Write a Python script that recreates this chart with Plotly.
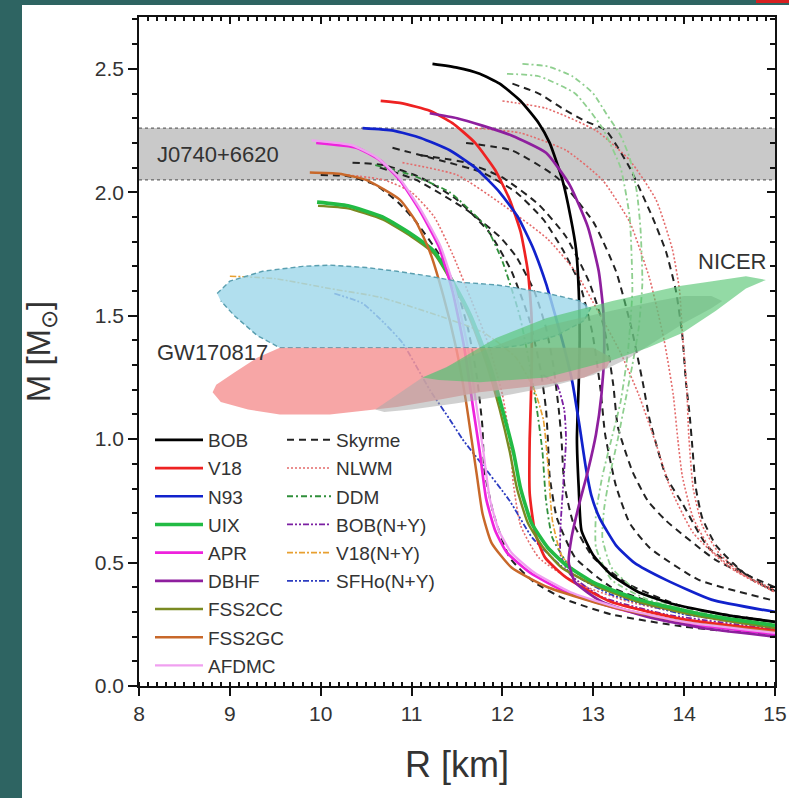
import plotly.graph_objects as go

# ---------------- axis / annotation data ----------------
x_range = [8, 15]
y_range = [0, 2.71]
j0740_band = [2.05, 2.26]

# ---------------- solid (nucleonic) curves ----------------
bob_R = [11.23, 11.5, 11.75, 11.97, 12.2, 12.4, 12.52, 12.66, 12.75, 12.81, 12.84, 12.85, 12.84, 12.82, 12.84, 12.87, 13.0, 13.2, 13.5, 13.9, 14.5, 15.0]
bob_M = [2.52, 2.505, 2.48, 2.44, 2.37, 2.28, 2.20, 2.05, 1.90, 1.77, 1.6, 1.40, 1.23, 1.0, 0.8, 0.63, 0.53, 0.45, 0.38, 0.33, 0.285, 0.26]

v18_R = [10.66, 10.9, 11.2, 11.45, 11.7, 11.92, 12.08, 12.2, 12.28, 12.32, 12.32, 12.3, 12.3, 12.36, 12.47, 12.7, 13.2, 14.0, 15.0]
v18_M = [2.37, 2.36, 2.33, 2.28, 2.20, 2.09, 1.97, 1.84, 1.68, 1.5, 1.25, 1.0, 0.78, 0.62, 0.52, 0.44, 0.34, 0.27, 0.225]

n93_R = [10.46, 10.8, 11.1, 11.42, 11.7, 11.97, 12.17, 12.33, 12.48, 12.59, 12.68, 12.77, 12.85, 12.92, 12.98, 13.07, 13.25, 13.45, 13.8, 14.3, 15.0]
n93_M = [2.26, 2.25, 2.22, 2.17, 2.10, 2.00, 1.90, 1.78, 1.63, 1.49, 1.37, 1.23, 1.05, 0.88, 0.77, 0.68, 0.57, 0.50, 0.43, 0.35, 0.30]

uix_R = [9.96, 10.3, 10.68, 11.0, 11.25, 11.45, 11.65, 11.86, 12.0, 12.12, 12.2, 12.32, 12.5, 12.7, 13.0, 13.5, 14.2, 15.0]
uix_M = [1.96, 1.945, 1.90, 1.83, 1.76, 1.64, 1.5, 1.3, 1.12, 0.95, 0.8, 0.66, 0.56, 0.49, 0.42, 0.35, 0.29, 0.245]

apr_R = [9.95, 10.4, 10.65, 10.87, 11.1, 11.3, 11.45, 11.58, 11.68, 11.75, 11.82, 11.92, 12.05, 12.3, 12.7, 13.3, 14.0, 15.0]
apr_M = [2.20, 2.18, 2.13, 2.05, 1.92, 1.78, 1.6, 1.37, 1.12, 0.95, 0.76, 0.63, 0.54, 0.46, 0.38, 0.31, 0.255, 0.21]

dbhf_R = [11.2, 11.5, 11.78, 12.1, 12.48, 12.74, 12.94, 13.06, 13.11, 13.12, 13.09, 13.03, 12.94, 12.84, 12.76, 12.73, 12.8, 13.1, 13.6, 14.2, 15.0]
dbhf_M = [2.32, 2.30, 2.27, 2.23, 2.16, 2.03, 1.86, 1.68, 1.52, 1.36, 1.18, 1.02, 0.87, 0.73, 0.6, 0.5, 0.42, 0.34, 0.28, 0.235, 0.20]

fss2cc_R = [9.97, 10.3, 10.68, 11.0, 11.25, 11.45, 11.63, 11.83, 11.97, 12.08, 12.16, 12.28, 12.45, 12.65, 13.0, 13.5, 14.2, 15.0]
fss2cc_M = [1.945, 1.935, 1.89, 1.82, 1.75, 1.63, 1.5, 1.3, 1.12, 0.95, 0.8, 0.66, 0.56, 0.48, 0.41, 0.34, 0.28, 0.235]

fss2gc_R = [9.88, 10.2, 10.5, 10.87, 11.05, 11.2, 11.35, 11.49, 11.6, 11.66, 11.72, 11.78, 11.88, 12.1, 12.5, 13.2, 14.0, 15.0]
fss2gc_M = [2.08, 2.075, 2.05, 1.97, 1.88, 1.76, 1.58, 1.37, 1.15, 1.0, 0.85, 0.7, 0.58, 0.48, 0.40, 0.32, 0.26, 0.22]

afdmc_R = [9.9, 10.35, 10.62, 10.86, 11.1, 11.32, 11.48, 11.62, 11.72, 11.79, 11.86, 11.96, 12.1, 12.35, 12.75, 13.3, 14.0, 15.0]
afdmc_M = [2.21, 2.19, 2.14, 2.06, 1.93, 1.78, 1.6, 1.37, 1.12, 0.95, 0.76, 0.63, 0.54, 0.46, 0.38, 0.315, 0.26, 0.215]

# ---------------- Skyrme family (dashed) ----------------
sk1_R = [10.0, 10.3, 10.6, 10.85, 11.05, 11.3, 11.5, 11.62, 11.72, 11.78, 11.8, 11.9, 12.08, 12.35, 12.7, 13.2, 14.0, 15.0]
sk1_M = [2.07, 2.065, 2.03, 1.96, 1.88, 1.75, 1.6, 1.45, 1.25, 1.05, 0.88, 0.7, 0.52, 0.42, 0.35, 0.29, 0.24, 0.205]
sk2_R = [10.35, 10.7, 11.1, 11.5, 11.85, 12.1, 12.3, 12.42, 12.48, 12.5, 12.52, 12.6, 12.8, 13.2, 13.8, 14.4, 15.0]
sk2_M = [2.12, 2.11, 2.06, 1.97, 1.84, 1.68, 1.48, 1.28, 1.12, 1.0, 0.85, 0.68, 0.52, 0.40, 0.32, 0.27, 0.235]
sk3_R = [10.65, 11.05, 11.6, 11.97, 12.15, 12.35, 12.48, 12.56, 12.62, 12.65, 12.68, 12.78, 13.0, 13.4, 14.0, 15.0]
sk3_M = [2.10, 2.05, 1.93, 1.82, 1.74, 1.6, 1.45, 1.3, 1.12, 1.0, 0.82, 0.66, 0.52, 0.41, 0.32, 0.26]
sk4_R = [10.79, 11.31, 11.78, 12.15, 12.45, 12.66, 12.85, 12.99, 13.08, 13.13, 13.25, 13.4, 13.62, 14.16, 15.0]
sk4_M = [2.18, 2.13, 2.08, 2.0, 1.89, 1.77, 1.63, 1.43, 1.2, 1.02, 0.81, 0.66, 0.56, 0.43, 0.345]
sk5_R = [11.1, 11.6, 12.0, 12.4, 12.7, 12.95, 13.12, 13.22, 13.27, 13.43, 13.6, 13.8, 14.35, 15.0]
sk5_M = [2.15, 2.12, 2.06, 1.95, 1.82, 1.64, 1.45, 1.22, 1.05, 0.87, 0.75, 0.67, 0.51, 0.40]
sk6_R = [11.6, 12.1, 12.6, 13.0, 13.25, 13.42, 13.55, 13.62, 13.8, 13.98, 14.27, 15.0]
sk6_M = [2.2, 2.17, 2.06, 1.88, 1.68, 1.45, 1.22, 1.08, 0.85, 0.74, 0.56, 0.38]
sk7_R = [12.11, 12.4, 12.66, 12.9, 13.14, 13.4, 13.65, 13.8, 13.91, 13.98, 14.02, 14.06, 14.09, 14.13, 14.2, 14.35, 14.53, 14.75, 15.0]
sk7_M = [2.44, 2.40, 2.34, 2.29, 2.25, 2.10, 1.90, 1.76, 1.60, 1.42, 1.23, 1.1, 0.97, 0.8, 0.68, 0.57, 0.50, 0.43, 0.385]

# ---------------- NLWM family (dotted) ----------------
nl1_R = [12.0, 12.48, 13.03, 13.4, 13.69, 13.87, 13.95, 13.98, 14.03, 14.05, 14.1, 14.2, 14.38, 14.65, 15.0]
nl1_M = [2.37, 2.34, 2.25, 2.13, 1.97, 1.77, 1.6, 1.43, 1.2, 1.02, 0.8, 0.65, 0.54, 0.45, 0.38]
nl2_R = [11.7, 12.2, 12.7, 13.1, 13.4, 13.62, 13.78, 13.88, 13.93, 13.98, 14.1, 14.3, 14.6, 15.0]
nl2_M = [2.26, 2.24, 2.17, 2.05, 1.88, 1.65, 1.4, 1.18, 1.0, 0.85, 0.68, 0.55, 0.46, 0.39]
nl3_R = [10.3, 10.7, 11.0, 11.25, 11.45, 11.65, 11.85, 12.0, 12.08, 12.12, 12.2, 12.4, 12.8, 13.4, 14.2, 15.0]
nl3_M = [2.07, 2.05, 2.0, 1.9, 1.75, 1.57, 1.38, 1.18, 1.0, 0.82, 0.65, 0.52, 0.42, 0.34, 0.28, 0.25]
nl4_R = [10.9, 11.5, 12.0, 12.5, 12.8, 13.05, 13.3, 13.5, 13.7, 13.85, 14.1, 14.5, 15.0]
nl4_M = [2.12, 2.07, 1.95, 1.81, 1.68, 1.52, 1.35, 1.18, 0.97, 0.8, 0.62, 0.48, 0.38]

# ---------------- DDM family (dash-dot) ----------------
dd1_R = [12.22, 12.5, 12.77, 13.0, 13.14, 13.3, 13.4, 13.48, 13.52, 13.54, 13.5, 13.43, 13.35, 13.27, 13.18, 13.12, 13.1, 13.2, 13.5, 14.0, 15.0]
dd1_M = [2.52, 2.51, 2.47, 2.40, 2.32, 2.23, 2.14, 2.0, 1.85, 1.63, 1.45, 1.3, 1.15, 1.0, 0.85, 0.72, 0.6, 0.48, 0.38, 0.31, 0.26]
dd2_R = [12.05, 12.4, 12.8, 13.1, 13.3, 13.4, 13.43, 13.38, 13.3, 13.2, 13.1, 13.03, 13.03, 13.2, 13.6, 14.2, 15.0]
dd2_M = [2.48, 2.47, 2.4, 2.26, 2.1, 1.9, 1.6, 1.35, 1.15, 1.0, 0.85, 0.7, 0.56, 0.43, 0.35, 0.29, 0.255]
dd3_R = [10.6, 11.0, 11.42, 11.82, 12.0, 12.19, 12.3, 12.38, 12.44, 12.48, 12.55, 12.75, 13.2, 14.0, 15.0]
dd3_M = [2.11, 2.07, 2.0, 1.86, 1.72, 1.5, 1.3, 1.12, 0.95, 0.75, 0.6, 0.48, 0.38, 0.3, 0.255]

# ---------------- hyperonic curves ----------------
bobny_R = [12.45, 12.6, 12.68, 12.70, 12.67, 12.64, 12.64, 12.75, 13.1, 13.8, 15.0]
bobny_M = [1.26, 1.22, 1.12, 1.0, 0.82, 0.65, 0.53, 0.45, 0.36, 0.29, 0.23]
v18ny_R = [9.0, 9.5, 10.1, 10.65, 11.38, 11.8, 12.15, 12.35, 12.45, 12.5, 12.55, 12.65, 12.9, 13.4, 14.2, 15.0]
v18ny_M = [1.66, 1.65, 1.61, 1.575, 1.49, 1.43, 1.33, 1.2, 1.08, 0.9, 0.67, 0.53, 0.43, 0.35, 0.285, 0.245]
sfhony_R = [10.15, 10.46, 10.7, 10.9, 11.2, 11.42, 11.56, 11.75, 12.08, 12.33, 12.7, 13.2, 14.0, 15.0]
sfhony_M = [1.59, 1.55, 1.47, 1.39, 1.2, 1.08, 1.0, 0.91, 0.75, 0.60, 0.47, 0.37, 0.29, 0.245]

# ---------------- observational regions ----------------
gw_up_R = [8.86, 9.0, 9.36, 9.8, 10.1, 10.5, 10.84, 11.2, 11.56, 11.93, 12.2, 12.5, 12.85, 12.97, 12.9, 12.6, 12.2, 12.0, 11.5, 10.5, 9.55, 9.3, 9.05, 8.9]
gw_up_M = [1.59, 1.64, 1.68, 1.70, 1.705, 1.695, 1.68, 1.66, 1.635, 1.625, 1.61, 1.59, 1.56, 1.53, 1.48, 1.42, 1.38, 1.37, 1.37, 1.37, 1.37, 1.42, 1.5, 1.56]
gw_lo_R = [9.55, 9.3, 9.05, 8.85, 8.81, 8.9, 9.2, 9.55, 10.1, 10.84, 11.3, 11.75, 12.48, 12.9, 13.15, 13.2, 13.0, 12.0, 11.0]
gw_lo_M = [1.37, 1.33, 1.27, 1.22, 1.19, 1.15, 1.12, 1.10, 1.10, 1.13, 1.16, 1.19, 1.22, 1.25, 1.29, 1.33, 1.37, 1.37, 1.37]
nicer_gray_R = [10.6, 11.12, 11.8, 12.5, 13.2, 13.7, 14.0, 14.3, 14.42, 14.3, 14.0, 13.7, 13.4, 13.0, 12.5, 12.0, 11.5, 11.0, 10.7]
nicer_gray_M = [1.12, 1.25, 1.36, 1.46, 1.52, 1.56, 1.58, 1.58, 1.56, 1.53, 1.47, 1.40, 1.33, 1.26, 1.21, 1.175, 1.145, 1.12, 1.11]
nicer_green_R = [11.12, 11.38, 11.93, 12.48, 13.21, 13.95, 14.31, 14.68, 14.9, 14.68, 14.35, 13.98, 13.6, 13.21, 12.48, 11.75, 11.3]
nicer_green_M = [1.25, 1.29, 1.41, 1.49, 1.56, 1.62, 1.64, 1.66, 1.645, 1.61, 1.52, 1.43, 1.37, 1.32, 1.25, 1.23, 1.24]

FONT = "Liberation Sans, Arial, sans-serif"
TXT = "#333333"

fig = go.Figure()

# J0740+6620 band (below the curves)
fig.add_trace(go.Scatter(x=[x_range[0], x_range[1], x_range[1], x_range[0], x_range[0]],
                         y=[j0740_band[0], j0740_band[0], j0740_band[1], j0740_band[1], j0740_band[0]],
                         mode="lines", fill="toself", fillcolor="rgb(201,201,201)",
                         line=dict(width=0), showlegend=False, hoverinfo="skip"))
for yb in j0740_band:
    fig.add_trace(go.Scatter(x=x_range, y=[yb, yb], mode="lines",
                             line=dict(color="#666666", width=1.2, dash="3px,3px"),
                             showlegend=False, hoverinfo="skip"))

def add_curve(R, M, name, color, width, dash, legend, show, group, rank):
    fig.add_trace(go.Scatter(x=R, y=M, mode="lines", name=name,
                             line=dict(color=color, width=width, dash=dash, shape="spline", smoothing=0.5),
                             legend=legend, showlegend=show, legendgroup=group, legendrank=rank))

# dashed / dotted families first
for i, (R, M) in enumerate([(sk1_R, sk1_M), (sk2_R, sk2_M), (sk3_R, sk3_M), (sk4_R, sk4_M),
                            (sk5_R, sk5_M), (sk6_R, sk6_M), (sk7_R, sk7_M)]):
    add_curve(R, M, "Skyrme", "#222222", 2.0, "7px,5px", "legend2", i == 0, "Skyrme", 1)
for i, (R, M) in enumerate([(nl1_R, nl1_M), (nl2_R, nl2_M), (nl3_R, nl3_M), (nl4_R, nl4_M)]):
    add_curve(R, M, "NLWM", "#e46b6b", 1.6, "2px,2px", "legend2", i == 0, "NLWM", 2)
for i, (R, M) in enumerate([(dd3_R, dd3_M), (dd1_R, dd1_M), (dd2_R, dd2_M)]):
    add_curve(R, M, "DDM", ["#2f8f3a", "#8fcf8f", "#8fcf8f"][i], 1.8, "6px,3px,2px,3px", "legend2", i == 0, "DDM", 3)
add_curve(bobny_R, bobny_M, "BOB(N+Y)", "#7b1fa2", 1.8, "6px,2px,2px,2px,2px,2px", "legend2", True, "BOBNY", 4)
add_curve(v18ny_R, v18ny_M, "V18(N+Y)", "#e8a030", 1.6, "6px,2px,2px,2px", "legend2", True, "V18NY", 5)
add_curve(sfhony_R, sfhony_M, "SFHo(N+Y)", "#2c3cc0", 1.8, "6px,2px,2px,2px,2px,2px", "legend2", True, "SFHONY", 6)

# solid curves
add_curve(bob_R, bob_M, "BOB", "#000000", 2.7, "solid", "legend", True, "BOB", 1)
add_curve(v18_R, v18_M, "V18", "#ee2222", 2.7, "solid", "legend", True, "V18", 2)
add_curve(n93_R, n93_M, "N93", "#1122cc", 2.7, "solid", "legend", True, "N93", 3)
add_curve(fss2cc_R, fss2cc_M, "FSS2CC", "#7a8a22", 2.4, "solid", "legend", True, "FSS2CC", 7)
add_curve(uix_R, uix_M, "UIX", "#22bb44", 3.6, "solid", "legend", True, "UIX", 4)
add_curve(apr_R, apr_M, "APR", "#ee22dd", 2.7, "solid", "legend", True, "APR", 5)
add_curve(dbhf_R, dbhf_M, "DBHF", "#8e1f9e", 2.7, "solid", "legend", True, "DBHF", 6)
add_curve(fss2gc_R, fss2gc_M, "FSS2GC", "#c8682a", 2.5, "solid", "legend", True, "FSS2GC", 8)
add_curve(afdmc_R, afdmc_M, "AFDMC", "#f0a0f0", 2.3, "solid", "legend", True, "AFDMC", 9)

# observational regions on top (semi-transparent)
fig.add_trace(go.Scatter(x=gw_up_R, y=gw_up_M, mode="lines", fill="toself",
                         fillcolor="rgba(160,216,234,0.82)",
                         line=dict(color="#5a9fb0", width=1.4, dash="5px,3px"),
                         showlegend=False, hoverinfo="skip"))
fig.add_trace(go.Scatter(x=gw_lo_R, y=gw_lo_M, mode="lines", fill="toself",
                         fillcolor="rgba(246,150,150,0.85)", line=dict(width=0),
                         showlegend=False, hoverinfo="skip"))
fig.add_trace(go.Scatter(x=nicer_gray_R, y=nicer_gray_M, mode="lines", fill="toself",
                         fillcolor="rgba(170,170,170,0.55)", line=dict(width=0),
                         showlegend=False, hoverinfo="skip"))
fig.add_trace(go.Scatter(x=nicer_green_R, y=nicer_green_M, mode="lines", fill="toself",
                         fillcolor="rgba(80,195,110,0.62)", line=dict(width=0),
                         showlegend=False, hoverinfo="skip"))

# labels
fig.add_annotation(x=8.18, y=2.155, text="J0740+6620", showarrow=False, xanchor="left",
                   font=dict(family=FONT, size=22, color=TXT))
fig.add_annotation(x=8.18, y=1.35, text="GW170817", showarrow=False, xanchor="left",
                   font=dict(family=FONT, size=22, color=TXT))
fig.add_annotation(x=14.92, y=1.72, text="NICER", showarrow=False, xanchor="right",
                   font=dict(family=FONT, size=22, color=TXT))

L, R_, T, B = 139, 14, 17, 112
W, H = 789, 798
pw, ph = W - L - R_, H - T - B

def px_x(p):
    return (p - L) / pw

def px_y(p):
    return (H - B - p) / ph

# slide background: teal frame with white page
fig.add_shape(type="rect", xref="paper", yref="paper", x0=px_x(22), x1=px_x(800),
              y0=px_y(810), y1=px_y(5), fillcolor="white", line=dict(width=0), layer="below")
fig.add_shape(type="rect", xref="paper", yref="paper", x0=px_x(756), x1=px_x(800),
              y0=px_y(3), y1=px_y(-5), fillcolor="#d62020", line=dict(width=0), layer="below")

tickfont = dict(family=FONT, size=21, color=TXT)
fig.update_layout(
    width=W, height=H,
    margin=dict(l=L, r=R_, t=T, b=B, autoexpand=False),
    paper_bgcolor="#2e6462",
    plot_bgcolor="white",
    font=dict(family=FONT, color=TXT),
    xaxis=dict(range=x_range, dtick=1, ticks="outside", ticklen=8, tickwidth=1.5, tickcolor="#111",
               showline=True, linecolor="#111", linewidth=1.5, showgrid=False, zeroline=False,
               automargin=False, tickfont=tickfont,
               minor=dict(dtick=0.1, ticks="inside", ticklen=4, tickcolor="#111"),
               title=dict(text="R [km]", font=dict(family=FONT, size=36, color=TXT), standoff=28)),
    xaxis2=dict(range=x_range, overlaying="x", side="top", dtick=1, ticks="inside", ticklen=7,
                tickwidth=1.5, tickcolor="#111", showline=True, linecolor="#111", linewidth=1.5,
                showgrid=False, zeroline=False, showticklabels=False, automargin=False,
                minor=dict(dtick=0.1, ticks="inside", ticklen=4, tickcolor="#111")),
    yaxis=dict(range=y_range, dtick=0.5, tickformat=".1f", ticks="outside", ticklen=9, tickwidth=1.5,
               tickcolor="#111", showline=True, linecolor="#111", linewidth=1.5, showgrid=False,
               zeroline=False, tickfont=tickfont, automargin=False,
               minor=dict(dtick=0.1, ticks="outside", ticklen=5, tickcolor="#111"),
               title=dict(text="M [M<sub>⊙</sub>]", font=dict(family=FONT, size=33, color=TXT), standoff=34)),
    yaxis2=dict(range=y_range, overlaying="y", side="right", dtick=0.5, ticks="inside", ticklen=8,
                tickwidth=1.5, tickcolor="#111", showline=True, linecolor="#111", linewidth=1.5,
                showgrid=False, zeroline=False, showticklabels=False, automargin=False,
                minor=dict(dtick=0.1, ticks="inside", ticklen=5, tickcolor="#111")),
    legend=dict(x=px_x(150), y=px_y(421), xanchor="left", yanchor="top", bgcolor="rgba(0,0,0,0)",
                font=dict(family=FONT, size=19, color=TXT), itemwidth=48, tracegroupgap=0.5,
                traceorder="grouped"),
    legend2=dict(x=px_x(282), y=px_y(421), xanchor="left", yanchor="top", bgcolor="rgba(0,0,0,0)",
                 font=dict(family=FONT, size=19, color=TXT), itemwidth=44, tracegroupgap=0.5,
                 traceorder="grouped"),
    showlegend=True,
)
# dummy trace to activate the mirrored axes
fig.add_trace(go.Scatter(x=[None], y=[None], xaxis="x2", yaxis="y2", showlegend=False))

fig.write_html("out.html", config={"displayModeBar": False},
               post_script="document.body.style.margin='0';document.body.style.background='#2e6462';")
